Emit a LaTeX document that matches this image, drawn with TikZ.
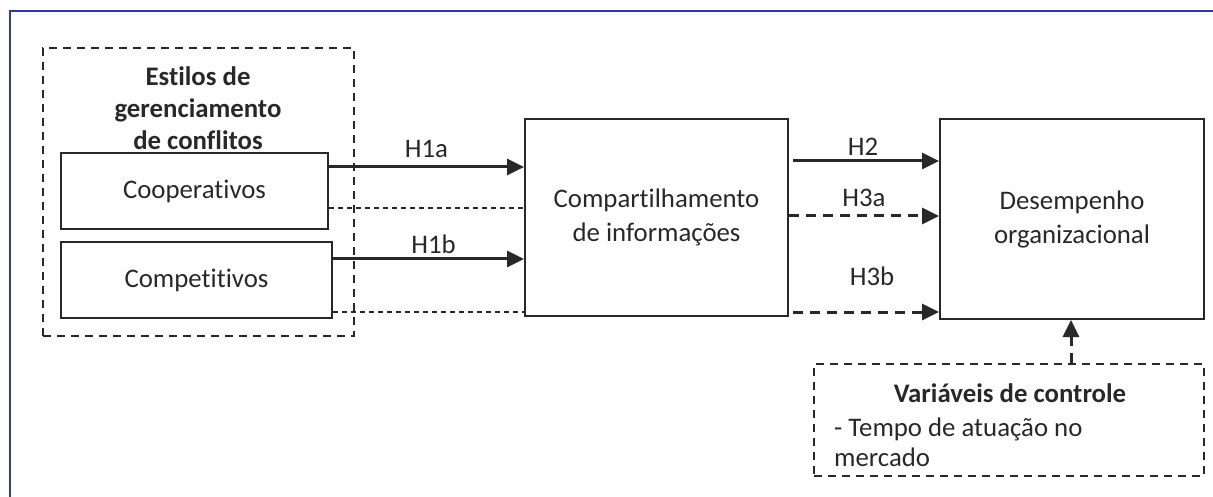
\documentclass[tikz,border=0pt]{standalone}
\usepackage{fontspec}
\setmainfont{Carlito}[Ligatures={NoCommon}]
\usetikzlibrary{arrows.meta}
\definecolor{txt}{RGB}{40,40,40}
\definecolor{frameblue}{RGB}{50,58,170}
\tikzset{
  boxnode/.style={draw=txt, line width=2pt, inner sep=0pt, text=txt, align=center,
    font=\fontsize{26.8}{34}\selectfont},
  groupbox/.style={draw=txt, line width=2pt, dash pattern=on 8pt off 6pt, inner sep=0pt},
  lbl/.style={text=txt, font=\fontsize{26.8}{32}\selectfont, inner sep=0pt},
  solidarrow/.style={draw=txt, line width=3pt, -{Triangle[length=17pt,width=16pt]}},
  dasharrow/.style={draw=txt, line width=3pt, dash pattern=on 10pt off 7pt, -{Triangle[length=17pt,width=16pt]}},
  thindash/.style={draw=txt, line width=1.4pt, dash pattern=on 5pt off 4pt},
}
\begin{document}
\begin{tikzpicture}[x=1pt,y=-1pt]
\useasboundingbox (0,0) rectangle (1213,497);
% outer blue frame (open to the right and bottom)
\draw[frameblue, line width=2.2pt] (10,497) -- (10,11) -- (1213,11);

% group
\node[groupbox, minimum width=311pt, minimum height=288pt] (group) at (198.5,192) {};
\node[lbl, align=center, font=\bfseries\fontsize{26.8}{32}\selectfont] (title) at (198,108) {Estilos de\\gerenciamento\\de conflitos};
\node[boxnode, minimum width=267pt, minimum height=76pt] (coop) at (194.5,191) {Cooperativos};
\node[boxnode, minimum width=271pt, minimum height=76pt] (compet) at (196.5,280) {Competitivos};

\node[boxnode, minimum width=263pt, minimum height=197pt] (comp) at (656.5,217.5) {Compartilhamento\\de informações};
\node[boxnode, minimum width=264pt, minimum height=200pt] (desemp) at (1072,219) {Desempenho\\organizacional};

\node[groupbox, minimum width=390pt, minimum height=112pt] (ctrl) at (1009,420) {};
\node[lbl, font=\bfseries\fontsize{26.8}{32}\selectfont] (ctrltitle) at (1010,393) {Variáveis de controle};
\node[lbl, anchor=west, align=left, font=\fontsize{26.8}{30}\selectfont] (ctrltext) at (834,442) {- Tempo de atuação no\\mercado};

% connectors
\draw[solidarrow] (coop.east |- 0,167) -- (comp.west |- 0,167) node[lbl, midway, above=8pt] {H1a};
\draw[thindash] (coop.east |- 0,208) -- (comp.west |- 0,208);
\draw[solidarrow] (compet.east |- 0,259) -- (comp.west |- 0,259) node[lbl, midway, above=4pt, xshift=5pt] {H1b};
\draw[thindash] (compet.east |- 0,312) -- (comp.west |- 0,312);

\draw[solidarrow] ([xshift=4pt]comp.east |- 0,161) -- (desemp.west |- 0,161) node[lbl, midway, above=4pt, xshift=-3pt] {H2};
\draw[dasharrow] (comp.east |- 0,216) -- (desemp.west |- 0,216) node[lbl, midway, above=8pt] {H3a};
\draw[dasharrow] ([xshift=4pt]comp.east |- 0,312) -- (desemp.west |- 0,312);
\node[lbl] (h3b) at (872,276) {H3b};

\draw[dasharrow] (ctrl.north -| 1071,0) -- (desemp.south -| 1071,0);
\end{tikzpicture}
\end{document}
